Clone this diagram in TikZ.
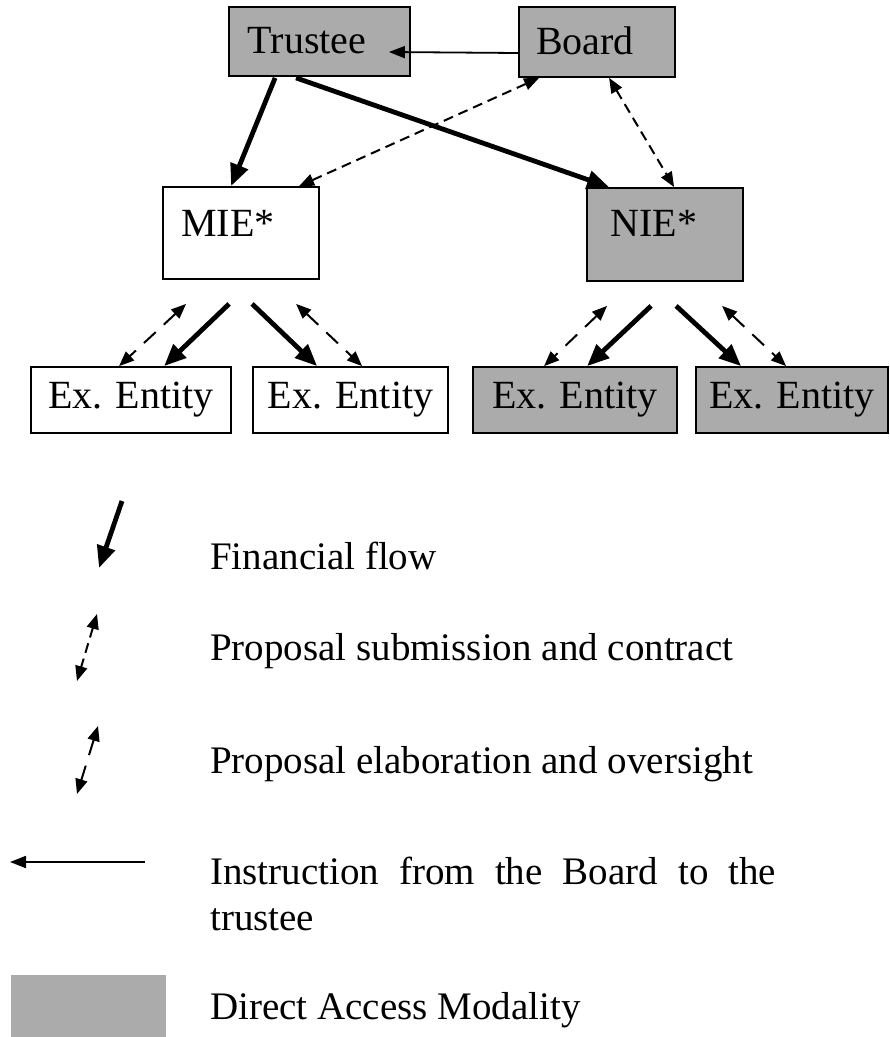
\documentclass[tikz,border=0pt]{standalone}
\usepackage{fontspec}
\setmainfont{Liberation Serif}
\usetikzlibrary{arrows.meta}
\definecolor{dagrey}{gray}{0.67}
\tikzset{
  box/.style={draw=black, line width=1.8pt, inner sep=0pt, rectangle},
  greybox/.style={box, fill=dagrey},
  whitebox/.style={box, fill=white},
  boxtext/.style={inner sep=0pt, font=\fontsize{40}{46}\selectfont},
  legtext/.style={inner sep=0pt, anchor=base west, font=\fontsize{39}{46}\selectfont},
  finarrow/.style={line width=4.8pt, -{Triangle[length=22pt,width=18pt]}},
  instrarrow/.style={line width=1.8pt, -{Triangle[length=16pt,width=12pt]}},
  subarrow/.style={line width=2pt, dash pattern=on 10pt off 6pt, {Triangle[length=15pt,width=12pt]}-{Triangle[length=15pt,width=12pt]}},
  elabarrow/.style={line width=2pt, dash pattern=on 16pt off 11pt, {Triangle[length=15pt,width=12pt]}-{Triangle[length=15pt,width=12pt]}}
}
\begin{document}
\begin{tikzpicture}[x=1pt,y=-1pt]
\useasboundingbox (0,0) rectangle (890,1037);
% boxes
\node[greybox, minimum width=181pt, minimum height=69pt] (trustee) at (319.5,41.5) {};
\node[greybox, minimum width=156pt, minimum height=70pt] (board) at (597,42) {};
\node[whitebox, minimum width=156pt, minimum height=92pt] (mie) at (241,233) {};
\node[greybox, minimum width=156pt, minimum height=93pt] (nie) at (665,234.5) {};
\node[whitebox, minimum width=200pt, minimum height=66pt] (e1) at (131,400) {};
\node[whitebox, minimum width=195pt, minimum height=66pt] (e2) at (350.5,400) {};
\node[greybox, minimum width=204pt, minimum height=66pt] (e3) at (575,400) {};
\node[greybox, minimum width=192pt, minimum height=66pt] (e4) at (792,400) {};
% texts
\node[boxtext] (trusteet) at (307,41) {Trustee};
\node[boxtext] (boardt) at (585,41) {Board};
\node[boxtext] (miet) at (228,223) {MIE*};
\node[boxtext] (niet) at (654,223) {NIE*};
\node[boxtext] (e1t) at (e1.center) {Ex. Entity};
\node[boxtext] (e2t) at (e2.center) {Ex. Entity};
\node[boxtext] (e3t) at (e3.center) {Ex. Entity};
\node[boxtext] (e4t) at (e4.center) {Ex. Entity};
% instruction
\draw[instrarrow] ([yshift=-11pt]board.west) -- ([shift={(-22pt,-10.5pt)}]trustee.east);
% financial flows
\draw[finarrow] ([shift={(47pt,-1pt)}]trustee.south west) -- ([xshift=69pt]mie.north west);
\draw[finarrow] ([shift={(68pt,-1pt)}]trustee.south west) -- ([xshift=23pt]nie.north west);
\draw[finarrow] ([shift={(67pt,-24pt)}]mie.south west) -- ([xshift=134pt]e1.north west);
\draw[finarrow] ([shift={(90pt,-24pt)}]mie.south west) -- ([xshift=65pt]e2.north west);
\draw[finarrow] ([shift={(65pt,-24pt)}]nie.south west) -- ([xshift=115pt]e3.north west);
\draw[finarrow] ([shift={(90pt,-24pt)}]nie.south west) -- ([xshift=46pt]e4.north west);
% proposal submission and contract
\draw[subarrow] ([xshift=21pt]board.south west) -- ([xshift=137pt]mie.north west);
\draw[subarrow] ([xshift=91pt]board.south west) -- ([xshift=88pt]nie.north west);
% proposal elaboration and oversight
\draw[elabarrow] ([shift={(24pt,-24pt)}]mie.south west) -- ([xshift=89pt]e1.north west);
\draw[elabarrow] ([shift={(134pt,-24pt)}]mie.south west) -- ([xshift=110pt]e2.north west);
\draw[elabarrow] ([shift={(21pt,-24pt)}]nie.south west) -- ([xshift=72pt]e3.north west);
\draw[elabarrow] ([shift={(136pt,-24pt)}]nie.south west) -- ([xshift=91pt]e4.north west);
% legend
\coordinate (lfa) at (122,501);
\coordinate (lfb) at (99,568);
\draw[finarrow] (lfa) -- (lfb);
\node[legtext] (lft) at (210,569) {Financial flow};
\coordinate (lsa) at (97,614);
\coordinate (lsb) at (77,681);
\draw[subarrow] (lsa) -- (lsb);
\node[legtext] (lst) at (210,660) {Proposal submission and contract};
\coordinate (lea) at (98,726);
\coordinate (leb) at (77,794);
\draw[elabarrow] (lea) -- (leb);
\node[legtext] (let) at (210,773) {Proposal elaboration and oversight};
\coordinate (lia) at (145,862);
\coordinate (lib) at (10,862);
\draw[instrarrow] (lia) -- (lib);
\node[legtext, text width=566pt, align=left] (lit) at (210,884) {Instruction\hfill from\hfill the\hfill Board\hfill to\hfill the\\trustee};
\node[greybox, draw=none, minimum width=155pt, minimum height=64pt, anchor=north west] (lgrey) at (10,974) {};
\node[legtext] (lgt) at (210,1019) {Direct Access Modality};
\end{tikzpicture}
\end{document}
